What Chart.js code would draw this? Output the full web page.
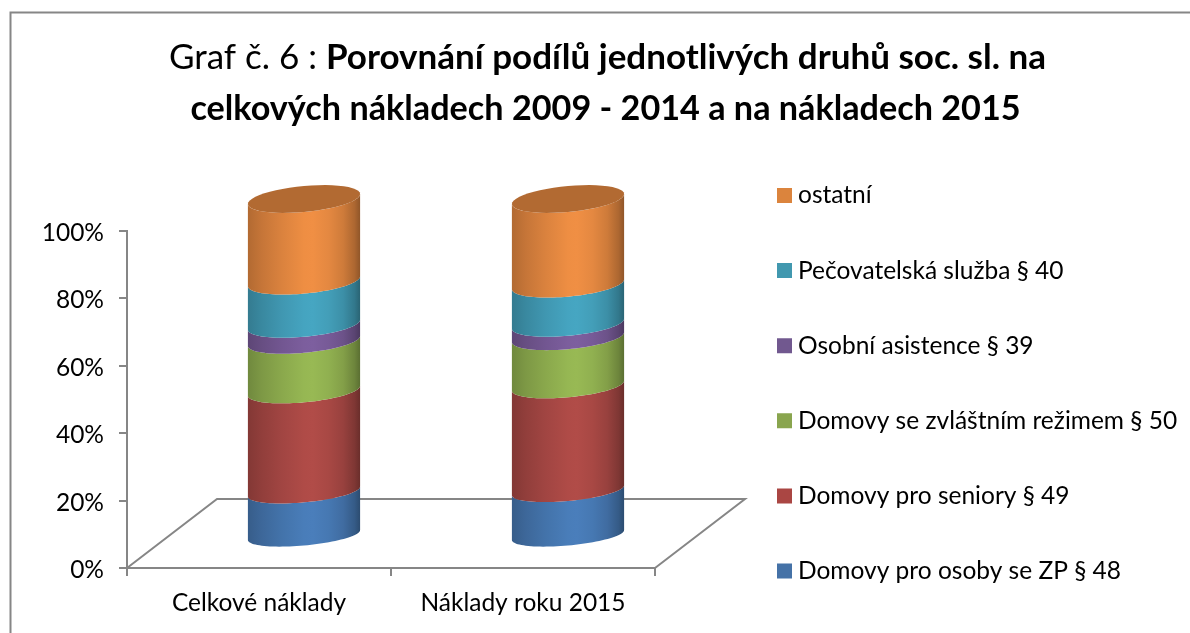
<!DOCTYPE html>
<html><head><meta charset="utf-8">
<style>html,body{margin:0;padding:0;background:#fff}canvas{display:block}</style>
<script src="https://cdn.jsdelivr.net/npm/chart.js@4"></script>
</head><body><canvas id="c" width="1190" height="633"></canvas>
<script>
const categories = ['Celkové náklady', 'Náklady roku 2015'];
const seriesNames = ['Domovy pro osoby se ZP § 48','Domovy pro seniory § 49','Domovy se zvláštním režimem § 50','Osobní asistence § 39','Pečovatelská služba § 40','ostatní'];
const domovyZP = [13.2, 13.6];
const domovySeniori = [29.9, 31.0];
const domovyRezim = [14.8, 14.4];
const asistence = [4.8, 4.0];
const pecovatelska = [12.9, 11.7];
const ostatni = [24.4, 25.3];
const seriesValues = [domovyZP, domovySeniori, domovyRezim, asistence, pecovatelska, ostatni];
const legendColors = ['#4572a7','#aa4643','#89a54e','#71588f','#4198af','#db843d'];
const bodyColors = [[74,126,187],[177,76,72],[152,185,84],[125,95,159],[70,166,194],[240,143,68]];
const titleParts = ['Graf č. 6 : ','Porovnání podílů jednotlivých druhů soc. sl. na','celkových nákladech 2009 - 2014 a na nákladech 2015'];
const FONT = 'Lato';
const GRAY = '#868686';
const DEPTH_X = 45, DEPTH_Y = -32;
const FLOOR_X = 90, FLOOR_Y = -69;
const LABEL_SIZE = 24.5;

function shade(c, f){ return `rgb(${c.map(v=>Math.round(v*f)).join(',')})`; }
function curve(ctx, cx, cy, rx, bulge, from, to, first){
  const n = 48;
  for(let i=0;i<=n;i++){
    const t = from + (to-from)*i/n;
    const x = cx + rx*Math.cos(t);
    const y = cy - 5*Math.cos(t) + bulge*Math.sin(t);
    if(i===0 && first) ctx.moveTo(x,y); else ctx.lineTo(x,y);
  }
}
const cylinderPlugin = {
  id:'cylinder',
  afterInit(chart){
    const lg = chart.legend, f = lg.fit;
    lg.fit = function(){ this.maxHeight = 1000; f.call(this); this.width = 535; };
  },
  afterLayout(chart){
    const lg = chart.legend;
    const p = lg.options.labels.padding;
    lg.left = 783.25 - p; lg.right = 1190;
    lg.top = 183.25 - p; lg.bottom = 1500;
    const s = chart.scales.y;
    if(!s._shifted){
      const f = s._computeLabelItems;
      s._computeLabelItems = function(a){ const items = f.call(this,a); items.forEach(it=>{it.textOffset += 2;}); return items; };
      s._shifted = true; s._labelItems = null;
    }
  },
  beforeDraw(chart){
    const ctx = chart.ctx;
    ctx.save();
    ctx.strokeStyle = GRAY; ctx.lineWidth = 2;
    ctx.beginPath(); ctx.moveTo(10.5,633); ctx.lineTo(10.5,12.5); ctx.lineTo(1190,12.5); ctx.stroke();
    // title
    ctx.fillStyle = '#000'; ctx.textBaseline = 'alphabetic'; ctx.textAlign='left';
    const reg = `400 35px ${FONT}`, bold = `700 35px ${FONT}`, bold2 = `700 34.2px ${FONT}`;
    ctx.font = reg; const w0 = ctx.measureText(titleParts[0]).width;
    ctx.font = bold; const w1 = ctx.measureText(titleParts[1]).width;
    ctx.font = bold2; const w2 = ctx.measureText(titleParts[2]).width;
    let x = 607.5 - (w0+w1)/2;
    ctx.font = reg; ctx.fillText(titleParts[0], x, 69);
    ctx.font = bold; ctx.fillText(titleParts[1], x+w0, 69);
    ctx.font = bold2; ctx.fillText(titleParts[2], 605.5 - w2/2, 120);
    // floor
    const {left,right,bottom} = chart.chartArea;
    ctx.beginPath();
    ctx.moveTo(left,bottom); ctx.lineTo(left+FLOOR_X,bottom+FLOOR_Y);
    ctx.lineTo(right+FLOOR_X,bottom+FLOOR_Y); ctx.lineTo(right,bottom);
    ctx.stroke();
    ctx.restore();
  },
  afterDatasetsDraw(chart){
    const ctx = chart.ctx, area = chart.chartArea;
    const bulgeAt = yy => 10.5 + 2.5*(area.bottom + DEPTH_Y - yy)/(area.bottom-area.top);
    ctx.save();
    categories.forEach((_,j)=>{
      seriesNames.forEach((_,i)=>{
        const b = chart.getDatasetMeta(i).data[j];
        const cx = b.x + DEPTH_X, rx = b.width/2;
        const yTop = b.y + DEPTH_Y, yBase = b.base + DEPTH_Y;
        const c = bodyColors[i];
        const g = ctx.createLinearGradient(cx-rx,0,cx+rx,0);
        [[0,.74],[.12,.82],[.3,.91],[.5,.99],[.58,1],[.72,.95],[.85,.86],[.95,.72],[1,.6]].forEach(s=>g.addColorStop(s[0],shade(c,s[1])));
        ctx.fillStyle = g;
        ctx.beginPath();
        curve(ctx,cx,yBase,rx,bulgeAt(yBase),0,Math.PI,true);
        curve(ctx,cx,yTop,rx,bulgeAt(yTop),Math.PI,0,false);
        ctx.closePath(); ctx.fill();
        if(i===seriesNames.length-1){
          ctx.fillStyle = shade(c,.74);
          ctx.beginPath();
          curve(ctx,cx,yTop,rx,bulgeAt(yTop),0,Math.PI*2,true);
          ctx.closePath(); ctx.fill();
        }
      });
    });
    ctx.restore();
  }
};
new Chart(document.getElementById('c'),{
  type:'bar',
  data:{labels:categories,datasets:seriesNames.map((n,i)=>({label:n,data:seriesValues[i],backgroundColor:'rgba(0,0,0,0)',borderWidth:0,barPercentage:.85,categoryPercentage:.5}))},
  plugins:[cylinderPlugin],
  options:{
    responsive:false,animation:false,
    layout:{padding:{top:231,left:0,right:0,bottom:0}},
    plugins:{
      tooltip:{enabled:false},title:{display:false},
      legend:{display:true,position:'right',align:'start',reverse:true,
        labels:{boxWidth:2.5,boxHeight:2.5,padding:50.6,color:'#000',font:{family:FONT,size:LABEL_SIZE},
          generateLabels(){return seriesNames.map((n,i)=>({text:n,fillStyle:legendColors[i],strokeStyle:legendColors[i],lineWidth:12.5,datasetIndex:i,hidden:false}));}}
      }
    },
    scales:{
      x:{stacked:true,
        grid:{display:true,drawOnChartArea:false,drawTicks:true,tickLength:8,color:GRAY,lineWidth:2},
        border:{color:GRAY,width:2},
        ticks:{color:'#000',font:{family:FONT,size:LABEL_SIZE},padding:12,maxRotation:0},
        afterFit(s){s.height=65;}},
      y:{stacked:true,min:0,max:100,
        grid:{display:true,drawOnChartArea:false,drawTicks:true,tickLength:8,color:GRAY,lineWidth:2},
        border:{color:GRAY,width:2},
        ticks:{stepSize:20,color:'#000',font:{family:FONT,size:LABEL_SIZE},padding:15,callback:v=>v+'%'},
        afterFit(s){s.width=127;}}
    }
  }
});
</script></body></html>
